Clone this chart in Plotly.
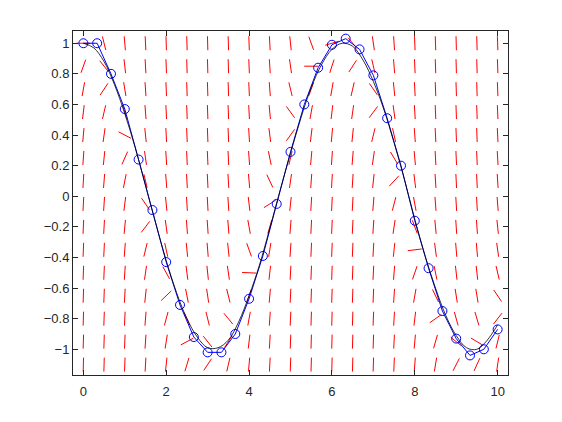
import numpy as np
import plotly.graph_objects as go

# Numerical solution (blue, circles)
t_num = [0.0, 0.333, 0.667, 1.0, 1.333, 1.667, 2.0, 2.333, 2.667, 3.0, 3.333,
         3.667, 4.0, 4.333, 4.667, 5.0, 5.333, 5.667, 6.0, 6.333, 6.667,
         7.0, 7.333, 7.667, 8.0, 8.333, 8.667, 9.0, 9.333, 9.667, 10.0]
y_num = [1.00, 1.00, 0.80, 0.57, 0.24, -0.09, -0.43, -0.71, -0.92, -1.02, -1.02,
         -0.90, -0.67, -0.39, -0.05, 0.29, 0.60, 0.84, 0.99, 1.03, 0.96,
         0.79, 0.51, 0.20, -0.16, -0.47, -0.75, -0.93, -1.04, -1.00, -0.87]

# Exact solution (thin black line)
t_ex = [0.0, 0.25, 0.5, 0.75, 1.0, 1.25, 1.5, 1.75, 2.0, 2.25, 2.5, 2.75, 3.0,
        3.25, 3.5, 3.75, 4.0, 4.25, 4.5, 4.75, 5.0, 5.25, 5.5, 5.75, 6.0,
        6.25, 6.5, 6.75, 7.0, 7.25, 7.5, 7.75, 8.0, 8.25, 8.5, 8.75, 9.0,
        9.25, 9.5, 9.75, 10.0]
y_ex = [1.00, 0.97, 0.88, 0.73, 0.54, 0.32, 0.07, -0.18, -0.42, -0.63, -0.80,
        -0.92, -0.99, -0.99, -0.94, -0.82, -0.65, -0.45, -0.21, 0.04, 0.28,
        0.51, 0.71, 0.86, 0.96, 1.00, 0.98, 0.89, 0.75, 0.57, 0.35, 0.11,
        -0.15, -0.39, -0.60, -0.78, -0.91, -0.99, -1.00, -0.94, -0.84]

# Direction field grid
t_grid = [0.0, 0.5, 1.0, 1.5, 2.0, 2.5, 3.0, 3.5, 4.0, 4.5, 5.0, 5.5, 6.0,
          6.5, 7.0, 7.5, 8.0, 8.5, 9.0, 9.5, 10.0]
y_grid = [-1.10, -0.95, -0.80, -0.65, -0.50, -0.35, -0.20, -0.05, 0.10,
          0.25, 0.40, 0.55, 0.70, 0.85, 1.00]

x_ticks = [0, 2, 4, 6, 8, 10]
y_ticks = [-1, -0.8, -0.6, -0.4, -0.2, 0, 0.2, 0.4, 0.6, 0.8, 1]
y_tick_text = ["\u22121", "\u22120.8", "\u22120.6", "\u22120.4", "\u22120.2", "0",
               "0.2", "0.4", "0.6", "0.8", "1"]

X_RANGE = [-0.25, 10.25]
Y_RANGE = [-1.168, 1.08]

# page body has an 8px margin; plot area in window: x 73..508, y 31..375
W, H = 554, 414
ML, MR, MT, MB = 65, 54, 23, 47


def slope(t, y):
    # ODE y' = -5 (y - cos t) - sin t
    return -5.0 * (y - np.cos(t)) - np.sin(t)


sx = (W - ML - MR) / (X_RANGE[1] - X_RANGE[0])
sy = (H - MT - MB) / (Y_RANGE[1] - Y_RANGE[0])
half = 7.0  # half segment length in pixels

seg_x, seg_y = [], []
for t in t_grid:
    for y in y_grid:
        f = slope(t, y)
        px, py = sx, f * sy
        n = np.hypot(px, py)
        dt = half * (px / n) / sx
        dy = half * (py / n) / sy
        seg_x += [t - dt, t + dt, None]
        seg_y += [y - dy, y + dy, None]

fig = go.Figure()
fig.add_trace(go.Scatter(x=seg_x, y=seg_y, mode="lines",
                         line=dict(color="#ff0000", width=1),
                         hoverinfo="skip", showlegend=False))
fig.add_trace(go.Scatter(x=t_num, y=y_num, mode="lines+markers",
                         line=dict(color="#0000ff", width=1),
                         marker=dict(symbol="circle-open", size=9,
                                     color="#0000ff", line=dict(width=1)),
                         showlegend=False))
fig.add_trace(go.Scatter(x=t_ex, y=y_ex, mode="lines",
                         line=dict(color="#000000", width=0.8, shape="spline"),
                         showlegend=False))

axis_common = dict(showgrid=False, zeroline=False, showline=True,
                   linecolor="#262626", linewidth=1, mirror="allticks",
                   ticks="inside", ticklen=5, tickcolor="#262626",
                   tickfont=dict(family="Liberation Sans, Arial, sans-serif",
                                 size=13, color="#262626"))

fig.update_xaxes(range=X_RANGE, tickvals=x_ticks, ticklabelstandoff=4,
                 **axis_common)
fig.update_yaxes(range=Y_RANGE, tickvals=y_ticks, ticktext=y_tick_text,
                 **axis_common)

fig.update_layout(width=W, height=H,
                  margin=dict(l=ML, r=MR, t=MT, b=MB),
                  plot_bgcolor="white", paper_bgcolor="white")

fig.write_html("out.html")
